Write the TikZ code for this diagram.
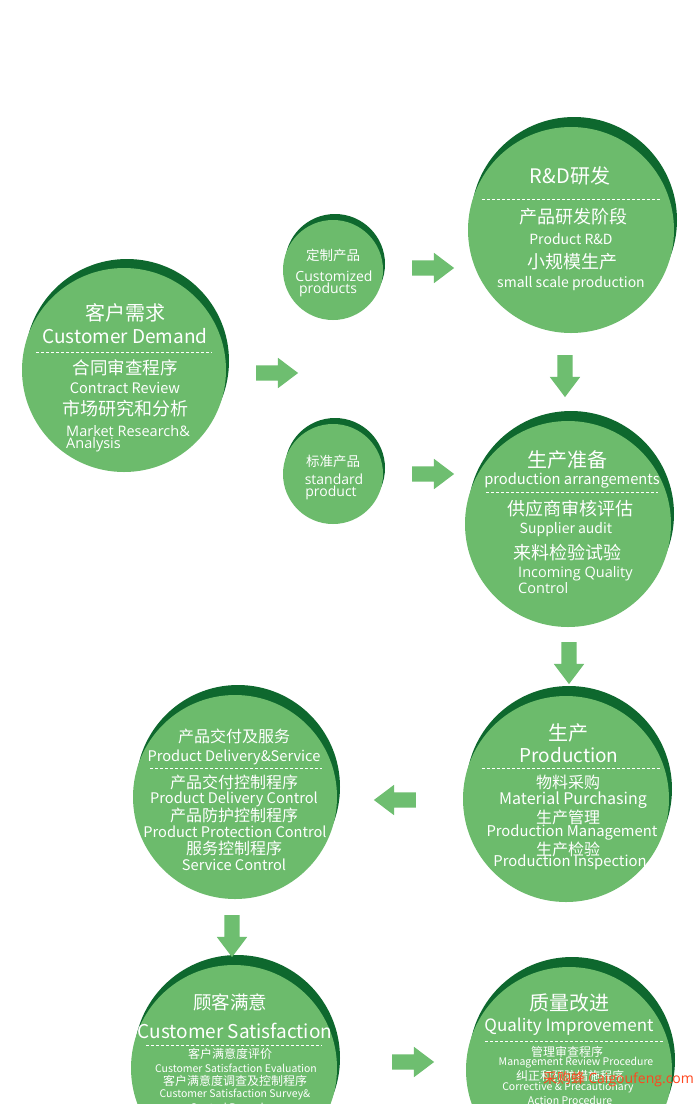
\documentclass[tikz,border=0pt]{standalone}
\usepackage{fontspec}
\setmainfont{Noto Sans CJK SC}
\newfontfamily\os{Open Sans}
\usetikzlibrary{shapes.arrows}
\definecolor{lg}{RGB}{108,187,108}
\definecolor{dg}{RGB}{14,104,46}
\definecolor{ag}{RGB}{110,190,112}
\definecolor{wm}{RGB}{255,70,30}
\begin{document}
\begin{tikzpicture}[x=1pt,y=-1pt,
  ball/.style={circle,fill=lg,inner sep=0pt,minimum size=#1},
  rim/.style={circle,fill=dg,inner sep=0pt,minimum size=#1},
  txt/.style={text=white,inner sep=0pt,font=\fontsize{#1}{#1}\selectfont},
  otx/.style={text=white,inner sep=0pt,font=\os\fontsize{#1}{#1}\selectfont},
  sep/.style={white,line width=0.7pt,dash pattern=on 3pt off 2pt},
  blockarrow/.style={single arrow,fill=ag,draw=none,inner sep=7.5pt,
    minimum height=42pt,single arrow head extend=7.5pt,single arrow tip angle=74},
]
\useasboundingbox (0,0) rectangle (700,1104);
\clip (0,0) rectangle (700,1104);
\fill[white] (0,0) rectangle (700,1104);

% ---------- circles ----------
\node[rim=204] (cdR) at (127,361) {};
\node[ball=204] (cd) at (124,370) {};
\node[rim=100] (cuR) at (335,264) {};
\node[ball=100] (cu) at (333,270) {};
\node[rim=100] (stR) at (335,468) {};
\node[ball=100] (st) at (333,474) {};
\node[rim=206] (rdR) at (574,220) {};
\node[ball=206] (rd) at (571,230) {};
\node[rim=206] (ppR) at (571,514) {};
\node[ball=206] (pp) at (568,524) {};
\node[rim=206] (prR) at (569,789) {};
\node[ball=206] (pr) at (566,799) {};
\node[rim=204] (pdR) at (238,787) {};
\node[ball=204] (pd) at (235,797) {};
\node[rim=206] (csR) at (237,1058) {};
\node[ball=206] (cs) at (234,1068) {};
\node[rim=206] (qiR) at (572,1060) {};
\node[ball=206] (qi) at (569,1070) {};

% ---------- block arrows ----------
\node[blockarrow] (a1) at (272,373) {};
\node[blockarrow] (a2) at (428,268) {};
\node[blockarrow] (a3) at (428,474) {};
\node[blockarrow,rotate=-90] (a4) at (565,371) {};
\node[blockarrow,rotate=-90] (a5) at (569,658) {};
\node[blockarrow,rotate=180] (a6) at (400,800) {};
\node[blockarrow,rotate=-90] (a7) at (232,931) {};
\node[blockarrow] (a8) at (408,1062) {};

% ---------- Customer Demand ----------
\node[txt=20] (cd1) at (125,313) {客户需求};
\node[txt=19] (cd2) at (125,336) {Customer Demand};
\draw[sep] (36,352) -- (212,352);
\node[txt=17.5] (cd3) at (125,368) {合同审查程序};
\node[txt=14.5] (cd4) at (125,388) {Contract Review};
\node[txt=18] (cd5) at (125,409) {市场研究和分析};
\node[otx=14.5,anchor=west] (cd6) at (66,431) {Market Research\&};
\node[otx=14.5,anchor=west] (cd7) at (66,445) {Analysis};

% ---------- Customized ----------
\node[txt=13.5] (cu1) at (333,255) {定制产品};
\node[otx=14] (cu2) at (334,276) {Customized};
\node[otx=14] (cu3) at (328,290) {products};

% ---------- standard ----------
\node[txt=13.5] (st1) at (333,461) {标准产品};
\node[otx=14] (st2) at (334,479) {standard};
\node[otx=14] (st3) at (331,493) {product};

% ---------- R&D ----------
\node[txt=20] (rd1) at (570,176) {R\&D研发};
\draw[sep] (482,199) -- (660,199);
\node[txt=18] (rd2) at (573,217) {产品研发阶段};
\node[txt=14] (rd3) at (571,239) {Product R\&D};
\node[txt=18] (rd4) at (572,262) {小规模生产};
\node[txt=14] (rd5) at (571,284) {small scale production};

% ---------- Production arrangements ----------
\node[txt=20] (pp1) at (567,460) {生产准备};
\node[txt=14.7] (pp2) at (572,480) {production arrangements};
\draw[sep] (486,492) -- (658,492);
\node[txt=18] (pp3) at (570,509) {供应商审核评估};
\node[txt=14] (pp4) at (566,530) {Supplier audit};
\node[txt=18] (pp5) at (567,553) {来料检验试验};
\node[otx=14.5,anchor=west] (pp6) at (518,574) {Incoming Quality};
\node[otx=14.5,anchor=west] (pp7) at (518,588) {Control};

% ---------- Production ----------
\node[txt=20] (pr1) at (568,733) {生产};
\node[txt=19] (pr2) at (569,755) {Production};
\draw[sep] (482,768) -- (660,768);
\node[txt=16] (pr3) at (568,782) {物料采购};
\node[txt=16] (pr4) at (573,800) {Material Purchasing};
\node[txt=16] (pr5) at (568,817) {生产管理};
\node[txt=14.8] (pr6) at (572,832) {Production Management};
\node[txt=16] (pr7) at (568,849) {生产检验};
\node[txt=14.8] (pr8) at (570,862) {Production Inspection};

% ---------- Product delivery ----------
\node[txt=16] (pd1) at (234,736) {产品交付及服务};
\node[txt=14.6] (pd2) at (234,757) {Product Delivery\&Service};
\draw[sep] (150,768) -- (322,768);
\node[txt=16] (pd3) at (234,782) {产品交付控制程序};
\node[txt=14.6] (pd4) at (234,799) {Product Delivery Control};
\node[txt=16] (pd5) at (234,815) {产品防护控制程序};
\node[txt=14.6] (pd6) at (235,832) {Product Protection Control};
\node[txt=16] (pd7) at (234,848) {服务控制程序};
\node[txt=14.6] (pd8) at (234,865) {Service Control};

% ---------- Customer satisfaction ----------
\node[txt=18.5] (cs1) at (230,1002) {顾客满意};
\node[txt=19] (cs2) at (235,1031) {Customer Satisfaction};
\draw[sep] (146,1045) -- (322,1045);
\node[txt=12] (cs3) at (230,1054) {客户满意度评价};
\node[txt=10.5] (cs4) at (236,1068) {Customer Satisfaction Evaluation};
\node[txt=12] (cs5) at (235,1081) {客户满意度调查及控制程序};
\node[txt=10.5] (cs6) at (235,1094) {Customer Satisfaction Survey\&};
\node[txt=10.5] (cs7) at (235,1107) {Control Procedure};

% ---------- Quality improvement ----------
\node[txt=20] (qi1) at (569,1003) {质量改进};
\node[txt=17] (qi2) at (569,1027) {Quality Improvement};
\draw[sep] (485,1041) -- (663,1041);
\node[txt=12] (qi3) at (567,1052) {管理审查程序};
\node[txt=10.5] (qi4) at (576,1063) {Management Review Procedure};
\node[txt=12] (qi5) at (570,1076) {纠正和预防措施程序};
\node[txt=10.5] (qi6) at (568,1088) {Corrective \& Precautionary};
\node[txt=10.5] (qi7) at (570,1100) {Action Procedure};

% ---------- watermark ----------
\node[text=wm,inner sep=0pt,font=\fontsize{14}{14}\selectfont,anchor=west] (wmk) at (543,1079) {采购蜂 {\os Caigoufeng.com}};
\end{tikzpicture}
\end{document}
